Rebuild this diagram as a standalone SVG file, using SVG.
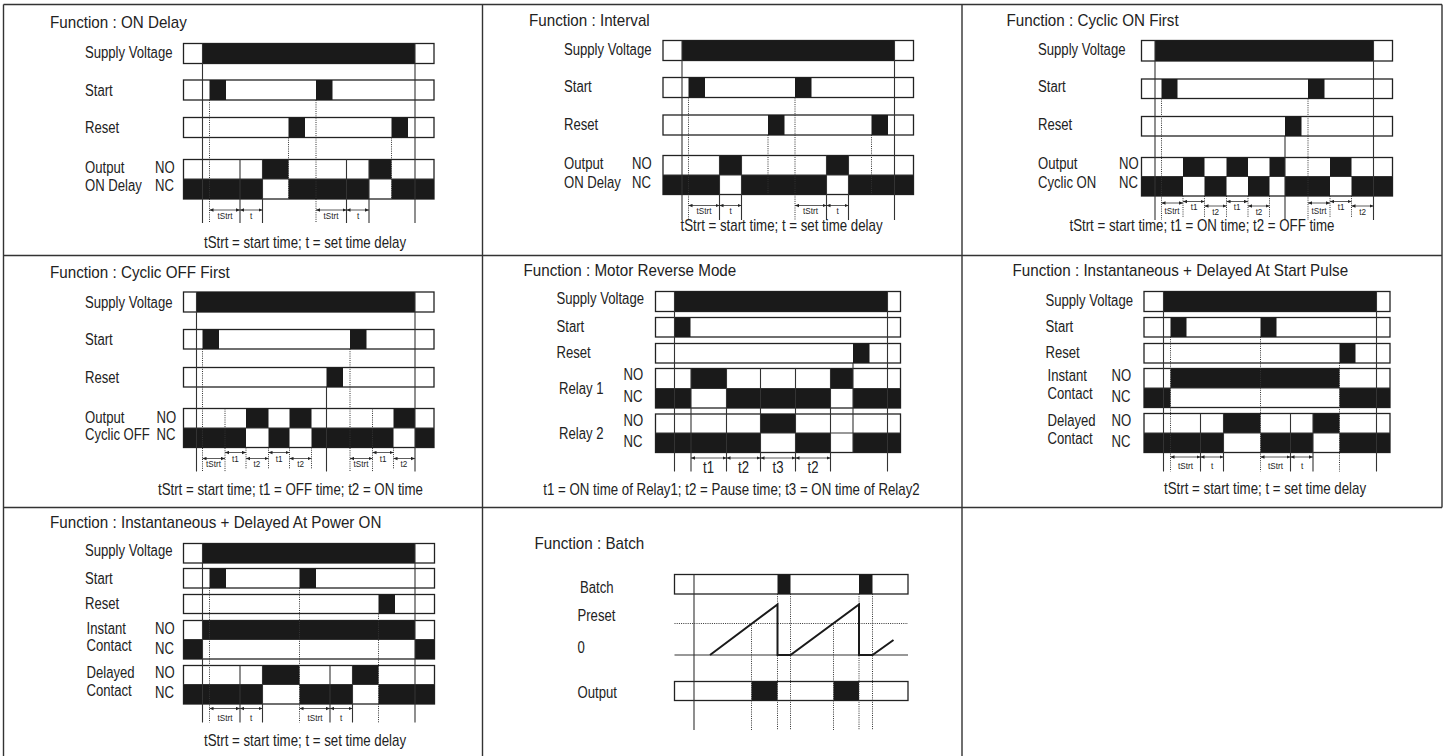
<svg xmlns="http://www.w3.org/2000/svg" width="1448" height="756" viewBox="0 0 1448 756">
<defs>
<marker id="ah" viewBox="0 0 6 6" refX="6" refY="3" markerWidth="4" markerHeight="4" orient="auto-start-reverse" markerUnits="userSpaceOnUse"><path d="M0,0.5 L6,3 L0,5.5 z" fill="#222"/></marker>
<style>
text{font-family:"Liberation Sans",Arial,sans-serif;fill:#222}
.ttl{font-size:16px;transform:scaleX(0.95);transform-box:fill-box;transform-origin:0 50%}
.lbl{font-size:16px;transform:scaleX(0.82);transform-box:fill-box;transform-origin:0 50%}
.cap{font-size:16px;text-anchor:middle;transform:scaleX(0.83);transform-box:fill-box;transform-origin:50% 50%}
.mid{font-size:16px;text-anchor:middle;transform:scaleX(0.82);transform-box:fill-box;transform-origin:50% 50%}
.sm{font-size:9px;text-anchor:middle;transform:scaleX(0.9);transform-box:fill-box;transform-origin:50% 50%}
.box{fill:#fff;stroke:#222;stroke-width:1.3}
.blk{fill:#1a1a1a}
.ln{stroke:#333;stroke-width:1.1;fill:none}
.dt{stroke:#333;stroke-width:1;stroke-dasharray:1 1.2;fill:none}
.ar{stroke:#333;stroke-width:0.8;marker-start:url(#ah);marker-end:url(#ah)}
.grid{stroke:#333;stroke-width:1.4;fill:none}
.ramp{stroke:#1a1a1a;stroke-width:2;fill:none}
</style>
</defs>
<rect width="1448" height="756" fill="#fff"/>
<g id="grid">
<path class="grid" d="M3.5 4.5H1442M3.5 4.5V756M3.5 255.5H1442M3.5 507.5H1442M482.5 4.5V756M962 4.5V756M1442 4.5V507.5"/>
</g>

<g id="p1">
<text class="ttl" x="50" y="28">Function : ON Delay</text>
<text class="lbl" x="85" y="58">Supply Voltage</text>
<text class="lbl" x="85" y="96">Start</text>
<text class="lbl" x="85" y="133">Reset</text>
<text class="lbl" x="85" y="173">Output</text>
<text class="lbl" x="155" y="173">NO</text>
<text class="lbl" x="85" y="191">ON Delay</text>
<text class="lbl" x="155" y="191">NC</text>
<rect class="box" x="183.5" y="43.5" width="250.5" height="20"/>
<rect class="blk" x="202.5" y="43.5" width="212.5" height="20"/>
<rect class="box" x="183.5" y="80" width="250.5" height="20"/>
<rect class="blk" x="209.5" y="80" width="16.5" height="20"/>
<rect class="blk" x="316" y="80" width="16.5" height="20"/>
<rect class="box" x="183.5" y="117.5" width="250.5" height="20"/>
<rect class="blk" x="288.5" y="117.5" width="16.5" height="20"/>
<rect class="blk" x="391.5" y="117.5" width="16.5" height="20"/>
<rect class="box" x="183.5" y="159.5" width="250.5" height="39.5"/>
<rect class="blk" x="262.5" y="159.5" width="26" height="19.5"/>
<rect class="blk" x="369" y="159.5" width="22.5" height="19.5"/>
<rect class="blk" x="183.5" y="179" width="79" height="20"/>
<rect class="blk" x="288.5" y="179" width="80.5" height="20"/>
<rect class="blk" x="391.5" y="179" width="42.5" height="20"/>
<path class="ln" d="M183.5 179H434M202.5 43.5V223M415 43.5V223M240 159.5V223M262.5 159.5V223M346.5 159.5V223M369 159.5V223"/>
<path class="dt" d="M209.5 100V223M316 100V223M288.5 137.5V199M391.5 137.5V199"/>
<line class="ar" x1="209.5" y1="210" x2="240" y2="210"/>
<line class="ar" x1="240" y1="210" x2="262.5" y2="210"/>
<line class="ar" x1="316" y1="210" x2="346.5" y2="210"/>
<line class="ar" x1="346.5" y1="210" x2="369" y2="210"/>
<text class="sm" x="225" y="219">tStrt</text>
<text class="sm" x="251" y="219">t</text>
<text class="sm" x="331" y="219">tStrt</text>
<text class="sm" x="358" y="219">t</text>
<text class="cap" x="305" y="248">tStrt = start time; t = set time delay</text>
</g>

<g id="p2">
<text class="ttl" x="529" y="26.5">Function : Interval</text>
<text class="lbl" x="564" y="55">Supply Voltage</text>
<text class="lbl" x="564" y="92.5">Start</text>
<text class="lbl" x="564" y="130">Reset</text>
<text class="lbl" x="564" y="169">Output</text>
<text class="lbl" x="632" y="169">NO</text>
<text class="lbl" x="564" y="188.5">ON Delay</text>
<text class="lbl" x="632" y="188.5">NC</text>
<rect class="box" x="663" y="40.5" width="250.5" height="20"/>
<rect class="blk" x="682" y="40.5" width="212.5" height="20"/>
<rect class="box" x="663" y="77.5" width="250.5" height="20"/>
<rect class="blk" x="688.5" y="77.5" width="16.5" height="20"/>
<rect class="blk" x="795" y="77.5" width="16.5" height="20"/>
<rect class="box" x="663" y="115" width="250.5" height="20"/>
<rect class="blk" x="768" y="115" width="16.5" height="20"/>
<rect class="blk" x="871.5" y="115" width="16.5" height="20"/>
<rect class="box" x="663" y="155.5" width="250.5" height="39"/>
<rect class="blk" x="719.5" y="155.5" width="22" height="19.5"/>
<rect class="blk" x="826.5" y="155.5" width="22" height="19.5"/>
<rect class="blk" x="663" y="175" width="56.5" height="19.5"/>
<rect class="blk" x="741.5" y="175" width="85" height="19.5"/>
<rect class="blk" x="848.5" y="175" width="65" height="19.5"/>
<path class="ln" d="M663 175H913.5M682 40.5V220M894.5 40.5V220M719.5 155.5V220M741.5 155.5V220M826.5 155.5V220M848.5 155.5V220"/>
<path class="dt" d="M688.5 97.5V220M795 97.5V220M768 135V194.5M871.5 135V194.5"/>
<line class="ar" x1="688.5" y1="205.5" x2="719.5" y2="205.5"/>
<line class="ar" x1="719.5" y1="205.5" x2="741.5" y2="205.5"/>
<line class="ar" x1="795" y1="205.5" x2="826.5" y2="205.5"/>
<line class="ar" x1="826.5" y1="205.5" x2="848.5" y2="205.5"/>
<text class="sm" x="704" y="214">tStrt</text>
<text class="sm" x="730.5" y="214">t</text>
<text class="sm" x="810.5" y="214">tStrt</text>
<text class="sm" x="837.5" y="214">t</text>
<text class="cap" x="781.5" y="231.5">tStrt = start time; t = set time delay</text>
</g>

<g id="p3">
<text class="ttl" x="1006.5" y="26.5">Function : Cyclic ON First</text>
<text class="lbl" x="1038" y="55">Supply Voltage</text>
<text class="lbl" x="1038" y="92.5">Start</text>
<text class="lbl" x="1038" y="130.5">Reset</text>
<text class="lbl" x="1038" y="169">Output</text>
<text class="lbl" x="1119" y="169">NO</text>
<text class="lbl" x="1038" y="188.5">Cyclic ON</text>
<text class="lbl" x="1119" y="188.5">NC</text>
<rect class="box" x="1141.5" y="40.5" width="251" height="20.5"/>
<rect class="blk" x="1155" y="40.5" width="218.5" height="20.5"/>
<rect class="box" x="1141.5" y="79" width="251" height="19.5"/>
<rect class="blk" x="1161.5" y="79" width="16" height="19.5"/>
<rect class="blk" x="1308" y="79" width="16.5" height="19.5"/>
<rect class="box" x="1141.5" y="116.5" width="251" height="19.5"/>
<rect class="blk" x="1285" y="116.5" width="16.5" height="19.5"/>
<rect class="box" x="1141.5" y="157.5" width="251" height="38.5"/>
<rect class="blk" x="1183" y="157.5" width="21.5" height="19"/>
<rect class="blk" x="1226.5" y="157.5" width="21.5" height="19"/>
<rect class="blk" x="1269.5" y="157.5" width="15.5" height="19"/>
<rect class="blk" x="1330" y="157.5" width="21.5" height="19"/>
<rect class="blk" x="1141.5" y="176.5" width="41.5" height="19.5"/>
<rect class="blk" x="1204.5" y="176.5" width="22" height="19.5"/>
<rect class="blk" x="1248" y="176.5" width="21.5" height="19.5"/>
<rect class="blk" x="1285" y="176.5" width="45" height="19.5"/>
<rect class="blk" x="1351.5" y="176.5" width="41" height="19.5"/>
<path class="ln" d="M1141.5 176.5H1392.5M1155 40.5V220M1373.5 40.5V220M1285 136V220"/>
<path class="dt" d="M1161.5 98.5V220M1308 98.5V220M1183 196V218M1204.5 196V218M1226.5 196V218M1248 196V218M1269.5 196V218M1330 196V218M1351.5 196V218"/>
<line class="ar" x1="1161.5" y1="203" x2="1183" y2="203"/>
<line class="ar" x1="1183" y1="201.5" x2="1204.5" y2="201.5"/>
<line class="ar" x1="1204.5" y1="206" x2="1226.5" y2="206"/>
<line class="ar" x1="1226.5" y1="201.5" x2="1248" y2="201.5"/>
<line class="ar" x1="1248" y1="206" x2="1269.5" y2="206"/>
<line class="ar" x1="1308" y1="203" x2="1330" y2="203"/>
<line class="ar" x1="1330" y1="201.5" x2="1351.5" y2="201.5"/>
<line class="ar" x1="1351.5" y1="206" x2="1373.5" y2="206"/>
<text class="sm" x="1172" y="214">tStrt</text>
<text class="sm" x="1194" y="210.5">t1</text>
<text class="sm" x="1215.5" y="215.5">t2</text>
<text class="sm" x="1237" y="210.5">t1</text>
<text class="sm" x="1259" y="215.5">t2</text>
<text class="sm" x="1319" y="214">tStrt</text>
<text class="sm" x="1341" y="210.5">t1</text>
<text class="sm" x="1362.5" y="215.5">t2</text>
<text class="cap" x="1202" y="231.5">tStrt = start time; t1 = ON time; t2 = OFF time</text>
</g>

<g id="p4">
<text class="ttl" x="50" y="278">Function : Cyclic OFF First</text>
<text class="lbl" x="85" y="308">Supply Voltage</text>
<text class="lbl" x="85" y="345.5">Start</text>
<text class="lbl" x="85" y="383">Reset</text>
<text class="lbl" x="85" y="423">Output</text>
<text class="lbl" x="156.5" y="423">NO</text>
<text class="lbl" x="85" y="440.5">Cyclic OFF</text>
<text class="lbl" x="156.5" y="440.5">NC</text>
<rect class="box" x="183.5" y="292" width="250.5" height="20"/>
<rect class="blk" x="196.5" y="292" width="218.5" height="20"/>
<rect class="box" x="183.5" y="329.5" width="250.5" height="19.5"/>
<rect class="blk" x="202.5" y="329.5" width="16.5" height="19.5"/>
<rect class="blk" x="350" y="329.5" width="16.5" height="19.5"/>
<rect class="box" x="183.5" y="367.5" width="250.5" height="19.5"/>
<rect class="blk" x="326.5" y="367.5" width="16.5" height="19.5"/>
<rect class="box" x="183.5" y="408.5" width="250.5" height="39"/>
<rect class="blk" x="246" y="408.5" width="22.5" height="19.5"/>
<rect class="blk" x="289.5" y="408.5" width="22" height="19.5"/>
<rect class="blk" x="393.5" y="408.5" width="21.5" height="19.5"/>
<rect class="blk" x="183.5" y="428" width="62.5" height="19.5"/>
<rect class="blk" x="268.5" y="428" width="21" height="19.5"/>
<rect class="blk" x="311.5" y="428" width="82" height="19.5"/>
<rect class="blk" x="415" y="428" width="19" height="19.5"/>
<path class="ln" d="M183.5 428H434M196.5 292V471.5M415 292V471.5M326.5 387V471.5"/>
<path class="dt" d="M202.5 349V471.5M350 349V471.5M225 408.5V471.5M372.5 408.5V471.5M246 447.5V469M268.5 447.5V469M289.5 447.5V469M311.5 447.5V469M393.5 447.5V469"/>
<line class="ar" x1="202.5" y1="458.5" x2="225" y2="458.5"/>
<line class="ar" x1="225" y1="452.5" x2="246" y2="452.5"/>
<line class="ar" x1="246" y1="458.5" x2="268.5" y2="458.5"/>
<line class="ar" x1="268.5" y1="452.5" x2="289.5" y2="452.5"/>
<line class="ar" x1="289.5" y1="458.5" x2="311.5" y2="458.5"/>
<line class="ar" x1="350" y1="458.5" x2="372.5" y2="458.5"/>
<line class="ar" x1="372.5" y1="452.5" x2="393.5" y2="452.5"/>
<line class="ar" x1="393.5" y1="458.5" x2="415" y2="458.5"/>
<text class="sm" x="213.5" y="467.5">tStrt</text>
<text class="sm" x="235.5" y="462">t1</text>
<text class="sm" x="257" y="467.5">t2</text>
<text class="sm" x="279" y="462">t1</text>
<text class="sm" x="300.5" y="467.5">t2</text>
<text class="sm" x="361" y="467.5">tStrt</text>
<text class="sm" x="383" y="462">t1</text>
<text class="sm" x="404" y="467.5">t2</text>
<text class="cap" x="290.5" y="495.5">tStrt = start time; t1 = OFF time; t2 = ON time</text>
</g>

<g id="p5">
<text class="ttl" x="523.5" y="276.5">Function : Motor Reverse Mode</text>
<text class="lbl" x="556.5" y="304.5">Supply Voltage</text>
<text class="lbl" x="556.5" y="332">Start</text>
<text class="lbl" x="556.5" y="358">Reset</text>
<text class="lbl" x="559" y="394.5">Relay 1</text>
<text class="lbl" x="623.5" y="380.5">NO</text>
<text class="lbl" x="623.5" y="402">NC</text>
<text class="lbl" x="559" y="439.5">Relay 2</text>
<text class="lbl" x="623.5" y="426.5">NO</text>
<text class="lbl" x="623.5" y="447">NC</text>
<rect class="box" x="655.5" y="291.5" width="245" height="20"/>
<rect class="blk" x="674.5" y="291.5" width="213" height="20"/>
<rect class="box" x="655.5" y="317.5" width="245" height="19.5"/>
<rect class="blk" x="674.5" y="317.5" width="16" height="19.5"/>
<rect class="box" x="655.5" y="343.5" width="245" height="19.5"/>
<rect class="blk" x="853" y="343.5" width="16.5" height="19.5"/>
<rect class="box" x="655.5" y="368.5" width="245" height="39.5"/>
<rect class="blk" x="691" y="368.5" width="35.5" height="20"/>
<rect class="blk" x="830.5" y="368.5" width="22.5" height="20"/>
<rect class="blk" x="655.5" y="388.5" width="35.5" height="19.5"/>
<rect class="blk" x="726.5" y="388.5" width="104" height="19.5"/>
<rect class="blk" x="853" y="388.5" width="47.5" height="19.5"/>
<rect class="box" x="655.5" y="414" width="245" height="38.5"/>
<rect class="blk" x="760.5" y="414" width="35" height="19"/>
<rect class="blk" x="655.5" y="433" width="105" height="19.5"/>
<rect class="blk" x="795.5" y="433" width="35" height="19.5"/>
<rect class="blk" x="853" y="433" width="47.5" height="19.5"/>
<path class="ln" d="M655.5 388.5H900.5M655.5 433H900.5M674.5 291.5V471.5M887.5 291.5V471.5M691 368.5V471.5M726.5 368.5V471.5M760.5 368.5V471.5M795.5 368.5V471.5M830.5 368.5V471.5M853 363V452.5"/>
<line class="ar" x1="691" y1="458" x2="726.5" y2="458"/>
<line class="ar" x1="726.5" y1="458" x2="760.5" y2="458"/>
<line class="ar" x1="760.5" y1="458" x2="795.5" y2="458"/>
<line class="ar" x1="795.5" y1="458" x2="830.5" y2="458"/>
<text class="mid" x="708.5" y="473">t1</text>
<text class="mid" x="743.5" y="473">t2</text>
<text class="mid" x="778" y="473">t3</text>
<text class="mid" x="813" y="473">t2</text>
<text class="cap" x="731.5" y="495.5">t1 = ON time of Relay1; t2 = Pause time; t3 = ON time of Relay2</text>
</g>

<g id="p6">
<text class="ttl" x="1012.5" y="276.5">Function : Instantaneous + Delayed At Start Pulse</text>
<text class="lbl" x="1045.5" y="306">Supply Voltage</text>
<text class="lbl" x="1045.5" y="332">Start</text>
<text class="lbl" x="1045.5" y="358">Reset</text>
<text class="lbl" x="1047.5" y="381">Instant</text>
<text class="lbl" x="1111.5" y="381.5">NO</text>
<text class="lbl" x="1047.5" y="399.5">Contact</text>
<text class="lbl" x="1111.5" y="402">NC</text>
<text class="lbl" x="1047.5" y="426">Delayed</text>
<text class="lbl" x="1111.5" y="426.5">NO</text>
<text class="lbl" x="1047.5" y="444">Contact</text>
<text class="lbl" x="1111.5" y="447">NC</text>
<rect class="box" x="1144" y="291.5" width="246" height="20"/>
<rect class="blk" x="1163.5" y="291.5" width="213" height="20"/>
<rect class="box" x="1144" y="317.5" width="246" height="19.5"/>
<rect class="blk" x="1170.5" y="317.5" width="16" height="19.5"/>
<rect class="blk" x="1260.5" y="317.5" width="16" height="19.5"/>
<rect class="box" x="1144" y="343.5" width="246" height="19.5"/>
<rect class="blk" x="1339.5" y="343.5" width="16" height="19.5"/>
<rect class="box" x="1144" y="368.5" width="246" height="39"/>
<rect class="blk" x="1170.5" y="368.5" width="169" height="19.5"/>
<rect class="blk" x="1144" y="388" width="26.5" height="19.5"/>
<rect class="blk" x="1339.5" y="388" width="50.5" height="19.5"/>
<rect class="box" x="1144" y="413.5" width="246" height="39"/>
<rect class="blk" x="1223.5" y="413.5" width="37" height="19.5"/>
<rect class="blk" x="1313" y="413.5" width="26.5" height="19.5"/>
<rect class="blk" x="1144" y="433" width="79.5" height="19.5"/>
<rect class="blk" x="1260.5" y="433" width="52.5" height="19.5"/>
<rect class="blk" x="1339.5" y="433" width="50.5" height="19.5"/>
<path class="ln" d="M1144 388H1390M1144 433H1390M1163.5 291.5V471.5M1376.5 291.5V471.5M1200.5 413.5V471.5M1223.5 413.5V471.5M1290.5 413.5V471.5M1313 413.5V471.5"/>
<path class="dt" d="M1170.5 337V471.5M1260.5 337V471.5M1339.5 363V471.5"/>
<line class="ar" x1="1170.5" y1="457" x2="1200.5" y2="457"/>
<line class="ar" x1="1200.5" y1="457" x2="1223.5" y2="457"/>
<line class="ar" x1="1260.5" y1="457" x2="1290.5" y2="457"/>
<line class="ar" x1="1290.5" y1="457" x2="1313" y2="457"/>
<text class="sm" x="1185.5" y="469.5">tStrt</text>
<text class="sm" x="1212" y="469.5">t</text>
<text class="sm" x="1275.5" y="469.5">tStrt</text>
<text class="sm" x="1302" y="469.5">t</text>
<text class="cap" x="1265" y="494.5">tStrt = start time; t = set time delay</text>
</g>

<g id="p7">
<text class="ttl" x="50" y="528.5">Function : Instantaneous + Delayed At Power ON</text>
<text class="lbl" x="85" y="556.5">Supply Voltage</text>
<text class="lbl" x="85" y="584">Start</text>
<text class="lbl" x="85" y="609.5">Reset</text>
<text class="lbl" x="86.5" y="634">Instant</text>
<text class="lbl" x="155" y="634">NO</text>
<text class="lbl" x="86.5" y="651.5">Contact</text>
<text class="lbl" x="155" y="654">NC</text>
<text class="lbl" x="86.5" y="678.5">Delayed</text>
<text class="lbl" x="155" y="678.5">NO</text>
<text class="lbl" x="86.5" y="696">Contact</text>
<text class="lbl" x="155" y="698.5">NC</text>
<rect class="box" x="183.5" y="543.5" width="251" height="19.5"/>
<rect class="blk" x="202.5" y="543.5" width="212.5" height="19.5"/>
<rect class="box" x="183.5" y="568.5" width="251" height="19.5"/>
<rect class="blk" x="209.5" y="568.5" width="16.5" height="19.5"/>
<rect class="blk" x="299.5" y="568.5" width="16.5" height="19.5"/>
<rect class="box" x="183.5" y="594.5" width="251" height="19"/>
<rect class="blk" x="378.5" y="594.5" width="16.5" height="19"/>
<rect class="box" x="183.5" y="620.5" width="251" height="38.5"/>
<rect class="blk" x="202.5" y="620.5" width="212.5" height="19"/>
<rect class="blk" x="183.5" y="639.5" width="19" height="19.5"/>
<rect class="blk" x="415" y="639.5" width="19.5" height="19.5"/>
<rect class="box" x="183.5" y="665.5" width="251" height="38.5"/>
<rect class="blk" x="262.5" y="665.5" width="37" height="19"/>
<rect class="blk" x="352.5" y="665.5" width="26" height="19"/>
<rect class="blk" x="183.5" y="684.5" width="79" height="19.5"/>
<rect class="blk" x="299.5" y="684.5" width="53" height="19.5"/>
<rect class="blk" x="378.5" y="684.5" width="56" height="19.5"/>
<path class="ln" d="M183.5 639.5H434.5M183.5 684.5H434.5M202.5 543.5V722.5M415 543.5V722.5M240 665.5V722.5M262.5 665.5V722.5M330 665.5V722.5M352.5 665.5V722.5"/>
<path class="dt" d="M209.5 588V722.5M299.5 588V722.5M378.5 613.5V722.5"/>
<line class="ar" x1="209.5" y1="708.5" x2="240" y2="708.5"/>
<line class="ar" x1="240" y1="708.5" x2="262.5" y2="708.5"/>
<line class="ar" x1="299.5" y1="708.5" x2="330" y2="708.5"/>
<line class="ar" x1="330" y1="708.5" x2="352.5" y2="708.5"/>
<text class="sm" x="225" y="721">tStrt</text>
<text class="sm" x="251" y="721">t</text>
<text class="sm" x="315" y="721">tStrt</text>
<text class="sm" x="341" y="721">t</text>
<text class="cap" x="305" y="746.5">tStrt = start time; t = set time delay</text>
</g>

<g id="p8">
<text class="ttl" x="534.5" y="549.5">Function : Batch</text>
<text class="lbl" x="580" y="593.5">Batch</text>
<text class="lbl" x="577.5" y="621.5">Preset</text>
<text class="lbl" x="577.5" y="653.5">0</text>
<text class="lbl" x="577.5" y="698.5">Output</text>
<rect class="box" x="674.5" y="574.5" width="233.5" height="19.5"/>
<rect class="blk" x="777.5" y="574.5" width="13" height="19.5"/>
<rect class="blk" x="859" y="574.5" width="13.5" height="19.5"/>
<rect class="box" x="674.5" y="681.5" width="233.5" height="19"/>
<rect class="blk" x="751.5" y="681.5" width="26" height="19"/>
<rect class="blk" x="833.5" y="681.5" width="25.5" height="19"/>
<path class="ln" d="M694 574.5V730M674.5 655H908"/>
<path class="dt" d="M674.5 623.5H908M751.5 623.5V730M777.5 594V730M790.5 594V730M833.5 623.5V730M859 594V730M872.5 594V730"/>
<path class="ramp" d="M710 655L777.5 604.5V655H790.5L859 604.5V655H872.5L893.5 640"/>
</g>
</svg>
